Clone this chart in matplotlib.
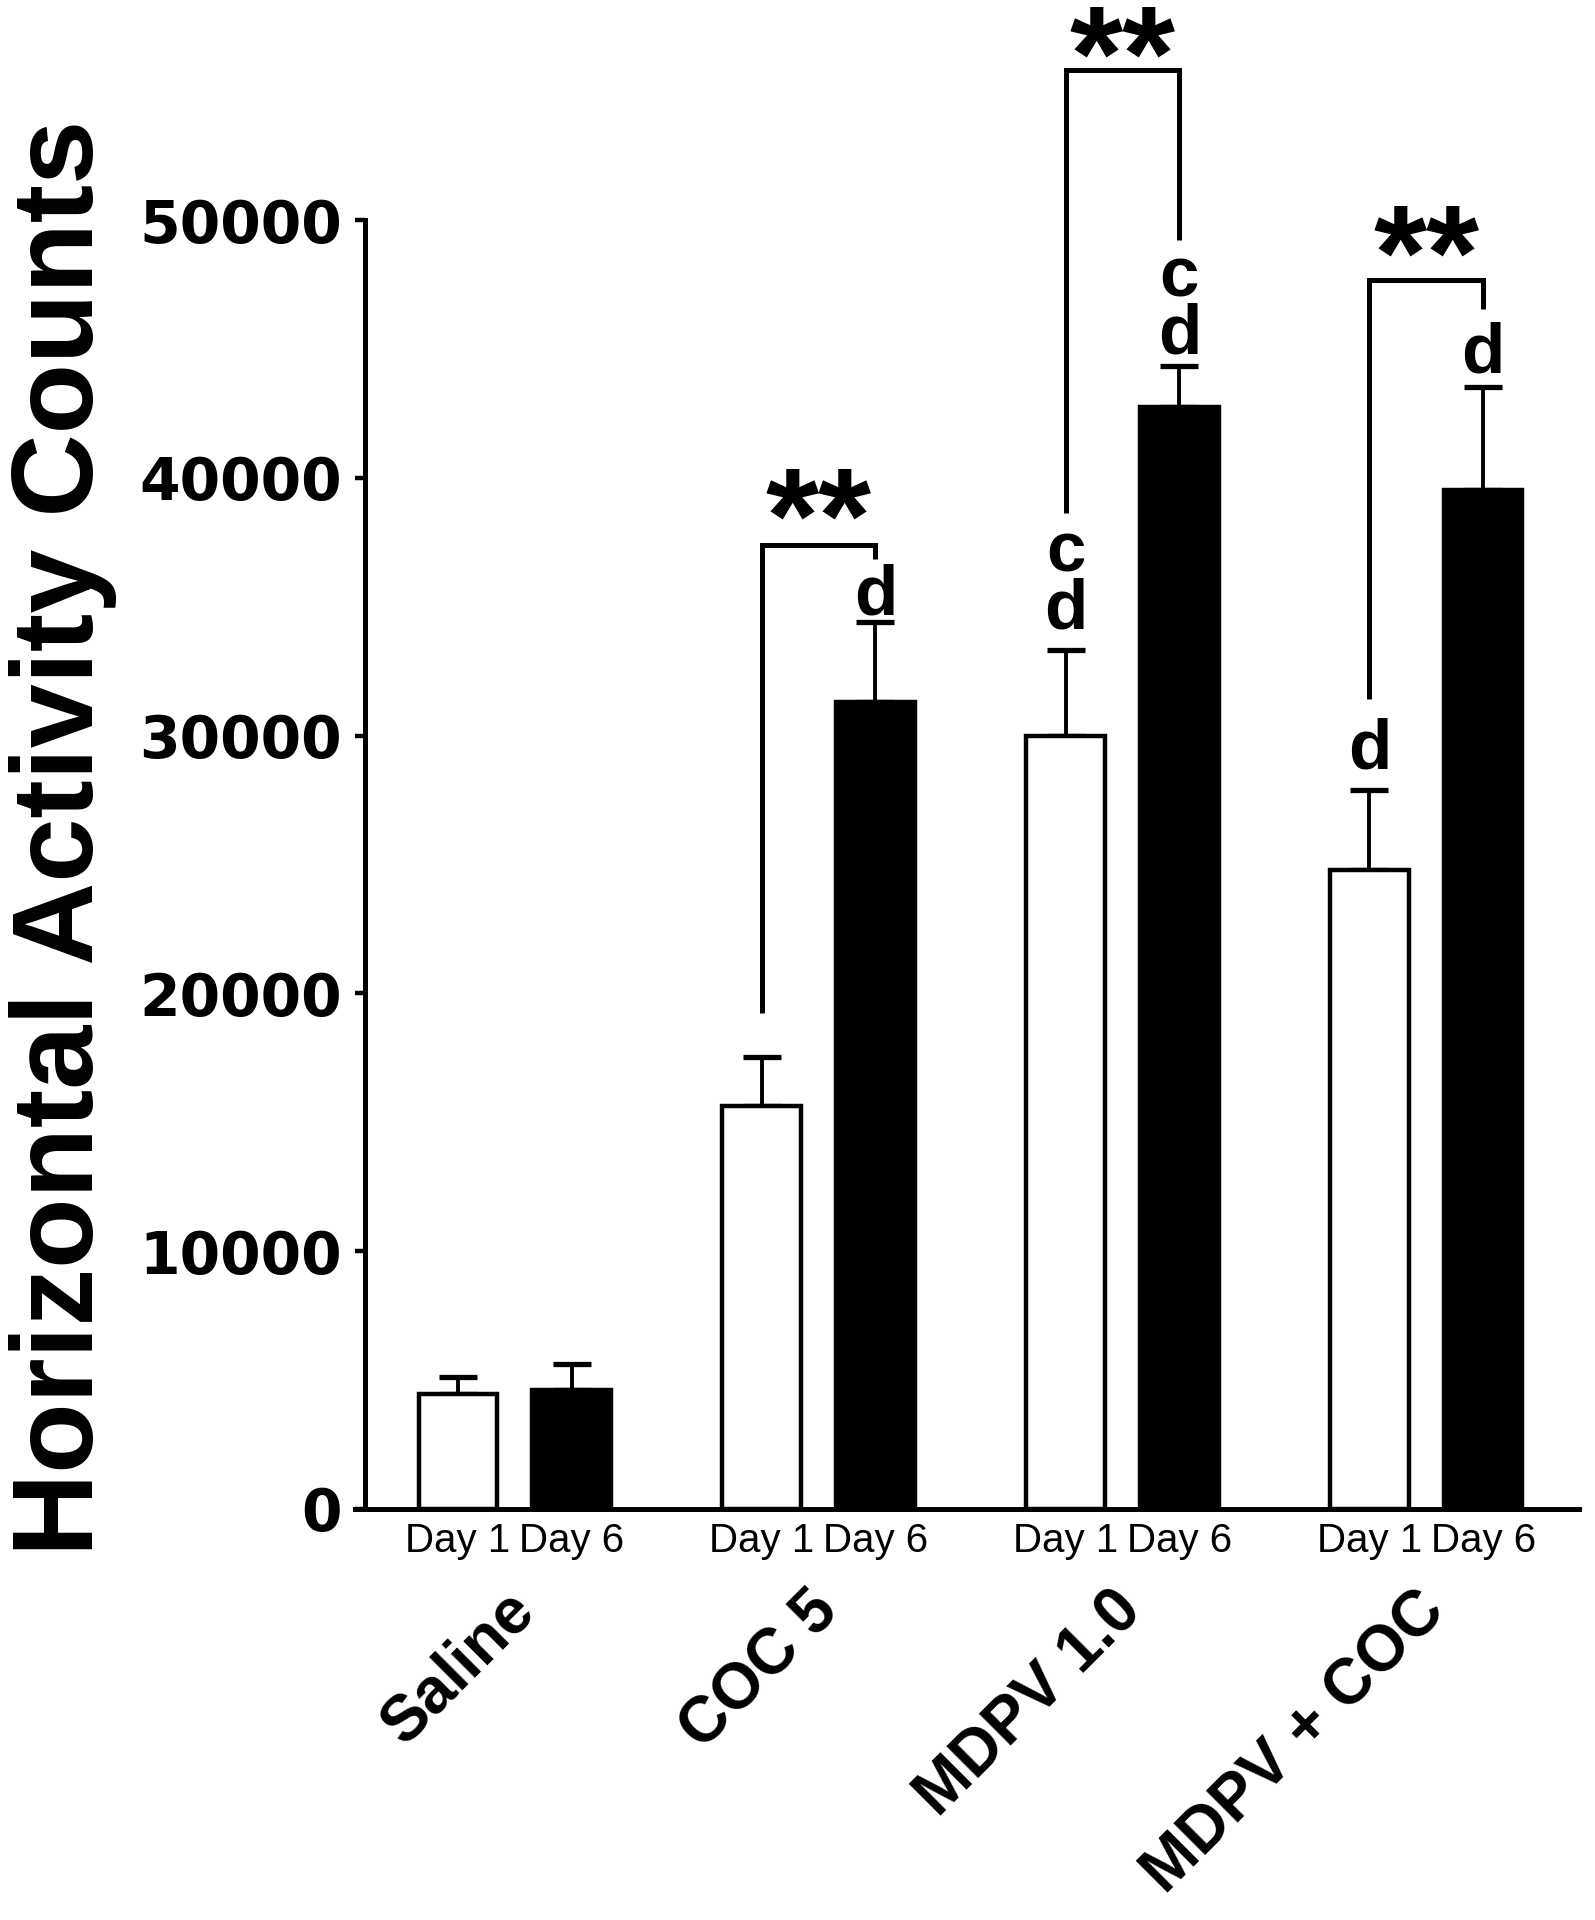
import matplotlib
matplotlib.use("Agg")
import matplotlib.pyplot as plt
import matplotlib.transforms as mtransforms
from matplotlib import font_manager
import numpy as np

# ---- data ----
groups = ["Saline", "COC 5", "MDPV 1.0", "MDPV + COC"]
day_labels = ["Day 1", "Day 6"]
day1_mean = [4460, 15620, 29980, 24790]
day1_sem = [660, 1900, 3340, 3100]
day6_mean = [4620, 31320, 42750, 39530]
day6_sem = [1000, 3080, 1580, 3990]

# significance letters: (group index, day index, letter, baseline value)
letters_group = [1, 2, 2, 2, 2, 3, 3]
letters_day = [1, 0, 0, 1, 1, 0, 1]
letters_text = ["d", "d", "c", "d", "c", "d", "d"]
letters_value = [34680, 34170, 36380, 44840, 47050, 28740, 44100]

# brackets: group index, left-leg bottom, top, right-leg bottom, star bottom
bracket_group = [1, 2, 3]
bracket_left_bottom = [19240, 38640, 31420]
bracket_top = [37390, 55820, 47680]
bracket_right_bottom = [36850, 49220, 46550]
star_bottom = [38250, 56170, 48450]
star_text = "**"

yticks = [0, 10000, 20000, 30000, 40000, 50000]
ylabel = "Horizontal Activity Counts"

# narrow font for day labels if available
try:
    font_manager.findfont(font_manager.FontProperties(family="Liberation Sans Narrow"),
                          fallback_to_default=False)
    day_family, day_size = "Liberation Sans Narrow", 34
except Exception:
    day_family, day_size = "Liberation Sans", 29

# ---- layout ----
W, H = 1595, 1920
fig = plt.figure(figsize=(W / 100, H / 100), dpi=100)
ax = fig.add_axes([355 / W, 1 - 1509 / H, 1224 / W, 1509 / H])

gs = 2.67
bw = 0.69
x1 = np.arange(len(groups)) * gs
x6 = x1 + 1.0

lw_bar = 3.2
ax.bar(x1, day1_mean, width=bw, color="white", edgecolor="black", linewidth=lw_bar, zorder=3)
ax.bar(x6, day6_mean, width=bw, color="black", edgecolor="black", linewidth=lw_bar, zorder=3)

err_kw = dict(fmt="none", ecolor="black", elinewidth=2.8, capsize=13.7, capthick=3.8, zorder=2)
ax.errorbar(x1, day1_mean, yerr=[np.zeros(len(groups)), day1_sem], **err_kw)
ax.errorbar(x6, day6_mean, yerr=[np.zeros(len(groups)), day6_sem], **err_kw)

ax.set_xlim(-0.903, 9.852)
ax.set_ylim(0, 58535)

for s in ["top", "right"]:
    ax.spines[s].set_visible(False)
ax.spines["left"].set_position(("data", -0.815))
ax.spines["left"].set_bounds(0, 50000)
ax.spines["left"].set_linewidth(3.6)
ax.spines["bottom"].set_linewidth(3.6)

ax.set_yticks(yticks)
ax.set_yticklabels([str(v) for v in yticks], fontfamily="DejaVu Sans",
                   fontweight="bold", fontsize=42)
ax.tick_params(axis="y", direction="out", length=7.5, width=3.2, pad=9)

xt = np.ravel(np.column_stack([x1, x6]))
ax.set_xticks(xt)
ax.set_xticklabels(day_labels * len(groups), fontfamily=day_family, fontsize=day_size)
ax.tick_params(axis="x", length=0, pad=9)

# group labels rotated 45 degrees
trans_g = mtransforms.blended_transform_factory(ax.transData, fig.transFigure)
for gi, name in enumerate(groups):
    ax.text(x1[gi] + 0.40, 1 - 1580 / H, name, transform=trans_g, rotation=45,
            rotation_mode="anchor", ha="right", va="top",
            fontfamily="Liberation Sans", fontweight="bold", fontsize=46,
            clip_on=False)

# y label
fig.text(93 / W, 1 - 838 / H, ylabel, rotation=90, rotation_mode="anchor",
         ha="center", va="baseline", fontfamily="Liberation Sans",
         fontweight="bold", fontsize=83)

# significance letters
for g, d, t, v in zip(letters_group, letters_day, letters_text, letters_value):
    xx = x1[g] if d == 0 else x6[g]
    ax.text(xx, v, t, ha="center", va="baseline", fontfamily="Liberation Sans",
            fontweight="bold", fontsize=51, clip_on=False, zorder=4)

# brackets with stars
for g, lb, tp, rb, sb in zip(bracket_group, bracket_left_bottom, bracket_top,
                             bracket_right_bottom, star_bottom):
    xl, xr = x1[g], x6[g]
    ax.plot([xl, xl, xr, xr], [lb, tp, tp, rb], color="black", lw=3.6,
            solid_joinstyle="miter", solid_capstyle="butt", clip_on=False, zorder=4)
    fs = 98
    ax.annotate(star_text, xy=((xl + xr) / 2, sb), xytext=(0, -0.28 * fs),
                textcoords="offset points", ha="center", va="baseline",
                fontfamily="Liberation Sans", fontweight="bold", fontsize=fs,
                annotation_clip=False, zorder=4)

fig.savefig("out.png", dpi=100, facecolor="white")
